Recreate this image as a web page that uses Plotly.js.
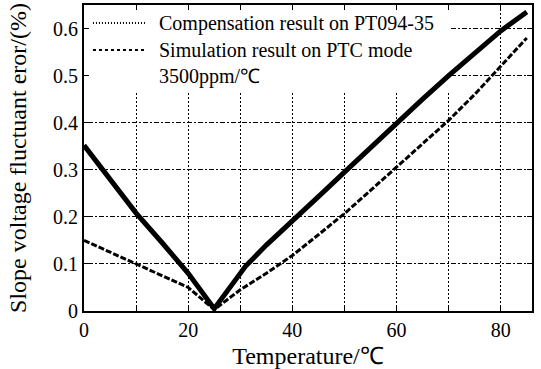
<!DOCTYPE html>
<html>
<head>
<meta charset="utf-8">
<script src="https://cdn.plot.ly/plotly-3.0.1.min.js"></script>
<style>html,body{margin:0;padding:0;background:#fff;}#chart{width:541px;height:369px;}</style>
</head>
<body>
<div id="chart"></div>
<script>
// Compensation result on PT094-35
var compX = [0, 5, 10, 15, 20, 25, 28, 31, 35, 40, 45, 50, 55, 60, 65, 70, 75, 80, 85];
var compY = [0.352, 0.28, 0.208, 0.145, 0.08, 0.005, 0.05, 0.095, 0.14, 0.19, 0.243, 0.295, 0.347, 0.40, 0.45, 0.50, 0.548, 0.595, 0.635];
// Simulation result on PTC mode
var simX = [0, 5, 10, 15, 20, 25, 30, 35, 40, 45, 50, 55, 60, 65, 70, 75, 80, 85];
var simY = [0.15, 0.125, 0.10, 0.075, 0.05, 0.003, 0.045, 0.08, 0.118, 0.162, 0.207, 0.256, 0.305, 0.355, 0.405, 0.46, 0.52, 0.58];

var seriesNames = ['Compensation result on PT094-35', 'Simulation result on PTC mode'];
var noteText = '3500ppm/\u2103';
var xTickVals = [0, 10, 20, 30, 40, 50, 60, 70, 80];
var xTickText = ['0', '', '20', '', '40', '', '60', '', '80'];
var yTickVals = [0, 0.1, 0.2, 0.3, 0.4, 0.5, 0.6];
var yTickText = ['0', '0.1', '0.2', '0.3', '0.4', '0.5', '0.6'];
var xTitle = 'Temperature/\u2103';
var yTitle = 'Slope voltage fluctuant eror/(%)';

var traces = [
  {x: compX, y: compY, mode: 'lines', line: {color: '#000', width: 5}, showlegend: false, name: seriesNames[0]},
  {x: simX, y: simY, mode: 'lines', line: {color: '#000', width: 3, dash: '6px,2px'}, showlegend: false, name: seriesNames[1]}
];

var layout = {
  width: 541, height: 369,
  margin: {l: 84, r: 9, t: 5, b: 58},
  paper_bgcolor: '#fff', plot_bgcolor: '#fff',
  font: {family: 'Liberation Serif', size: 20, color: '#000'},
  showlegend: false,
  xaxis: {
    range: [0, 86], tickmode: 'array', tickvals: xTickVals, ticktext: xTickText,
    ticks: 'inside', ticklen: 5, tickwidth: 1, tickcolor: '#000', mirror: 'ticks',
    showline: true, linecolor: '#000', linewidth: 2,
    showgrid: true, gridcolor: '#000', gridwidth: 1, griddash: '2px,2px',
    zeroline: false, automargin: false,
    title: {text: xTitle, standoff: 8}
  },
  yaxis: {
    range: [0, 0.65], tickmode: 'array', tickvals: yTickVals, ticktext: yTickText,
    ticks: 'inside', ticklen: 5, tickwidth: 1, tickcolor: '#000', mirror: 'ticks',
    showline: true, linecolor: '#000', linewidth: 2,
    showgrid: true, gridcolor: '#000', gridwidth: 1, griddash: '2px,2px,5px,2px',
    zeroline: false, automargin: false,
    title: {text: yTitle, standoff: 20}
  },
  shapes: [
    {type: 'rect', xref: 'x', yref: 'y', x0: 0, x1: 70.3, y0: 0.465, y1: 0.65, fillcolor: '#fff', line: {width: 0}, layer: 'between'},
    {type: 'line', xref: 'paper', yref: 'paper', x0: 0.02, x1: 0.136, y0: 0.941, y1: 0.941, line: {color: '#000', width: 2, dash: '1px,2px'}},
    {type: 'line', xref: 'paper', yref: 'paper', x0: 0.02, x1: 0.136, y0: 0.853, y1: 0.853, line: {color: '#000', width: 2, dash: '3px,3px'}}
  ],
  annotations: [
    {xref: 'paper', yref: 'paper', x: 0.163, y: 0.941, xanchor: 'left', yanchor: 'middle', text: seriesNames[0], showarrow: false},
    {xref: 'paper', yref: 'paper', x: 0.163, y: 0.853, xanchor: 'left', yanchor: 'middle', text: seriesNames[1], showarrow: false},
    {xref: 'paper', yref: 'paper', x: 0.163, y: 0.765, xanchor: 'left', yanchor: 'middle', text: noteText, showarrow: false}
  ]
};

Plotly.newPlot('chart', traces, layout, {displayModeBar: false, staticPlot: true});
</script>
</body>
</html>
